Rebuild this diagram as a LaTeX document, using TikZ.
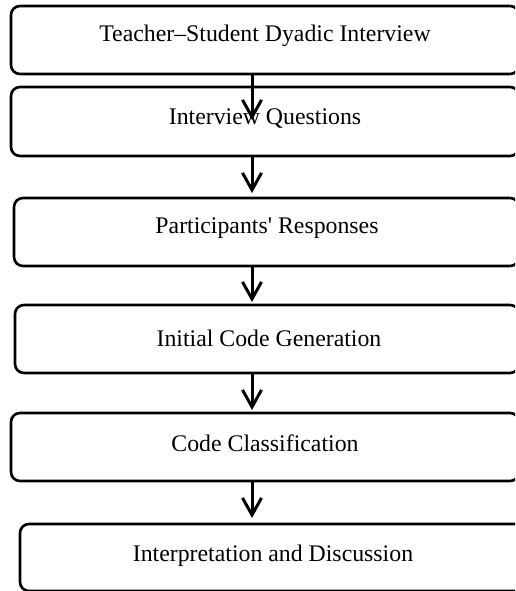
\documentclass[tikz,border=0pt]{standalone}
\usepackage{fontspec}
\setmainfont{Liberation Serif}
\usetikzlibrary{fit,arrows.meta}
\begin{document}
\begin{tikzpicture}[x=1pt,y=-1pt,
  box/.style={draw, line width=2.6pt, rounded corners=9pt, inner sep=0pt},
  lbl/.style={font=\fontsize{23.8}{28}\selectfont, inner sep=0pt, anchor=center},
  flow/.style={line width=3pt, -{Straight Barb[length=17pt,width=19pt,line width=3pt]}}]
\useasboundingbox (0,0) rectangle (515,591);
\begin{scope}
\clip (0,0) rectangle (515,591);
\node[box, fit={(11,6)(519,74)}] (b1) {};
\node[box, fit={(11,87)(519,156)}] (b2) {};
\node[box, fit={(14,198)(519,266)}] (b3) {};
\node[box, fit={(15,305)(519,373)}] (b4) {};
\node[box, fit={(11,413)(519,481)}] (b5) {};
\node[box, fit={(20,524)(540,591)}] (b6) {};
\end{scope}
\node[lbl] (t1) at (265,36) {Teacher–Student Dyadic Interview};
\node[lbl] (t2) at (265,119) {Interview Questions};
\node[lbl] (t3) at (267,228) {Participants\textquotesingle{} Responses};
\node[lbl] (t4) at (269,338) {Initial Code Generation};
\node[lbl] (t5) at (265,443) {Code Classification};
\node[lbl] (t6) at (273,556) {Interpretation and Discussion};
\coordinate (e1) at (252,120);
\coordinate (e2) at (252,193);
\coordinate (e3) at (252,302);
\coordinate (e4) at (252,410);
\coordinate (e5) at (252,518);
\draw[flow] (b1.south -| e1) -- (e1);
\draw[flow] (b2.south -| e2) -- (e2);
\draw[flow] (b3.south -| e3) -- (e3);
\draw[flow] (b4.south -| e4) -- (e4);
\draw[flow] (b5.south -| e5) -- (e5);
\end{tikzpicture}
\end{document}
